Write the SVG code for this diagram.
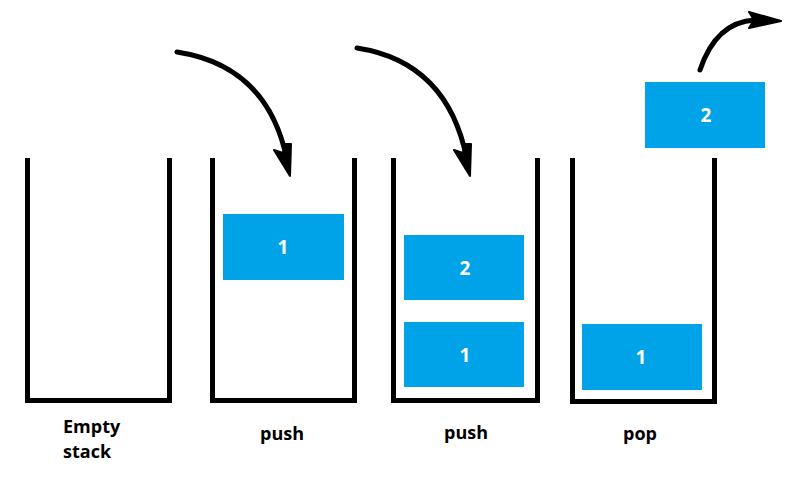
<svg xmlns="http://www.w3.org/2000/svg" width="803" height="478" viewBox="0 0 803 478">
<style>
.stack{fill:none;stroke:#000;stroke-width:5;stroke-linecap:butt;stroke-linejoin:miter}
.box{fill:#00a2e8}
.num{fill:#fff;font-family:"Open Sans",sans-serif;font-weight:bold;font-size:19px;text-anchor:middle}
.lbl{fill:#000;font-family:"Open Sans",sans-serif;font-weight:bold;font-size:18px;text-anchor:middle}
.arr{fill:none;stroke:#000;stroke-width:5;stroke-linecap:round}
.head{fill:#000;stroke:#000;stroke-width:2;stroke-linejoin:round}
</style>
<rect width="803" height="478" fill="#fff"/>
<g id="stack-empty">
<path class="stack" d="M27.5,158 V400.5 H169.5 V158"/>
<text class="lbl" x="63" y="433" text-anchor="start" style="text-anchor:start">Empty</text>
<text class="lbl" x="63" y="458" text-anchor="start" style="text-anchor:start">stack</text>
</g>
<g id="stack-push1">
<path class="stack" d="M212.5,158 V400.5 H354.5 V158"/>
<rect class="box" x="223" y="214" width="121" height="66"/>
<text class="num" x="283" y="254">1</text>
<text class="lbl" x="282" y="440">push</text>
</g>
<g id="stack-push2">
<path class="stack" d="M393.5,158 V400.5 H537.5 V158"/>
<rect class="box" x="404" y="235" width="120" height="65"/>
<text class="num" x="465" y="275">2</text>
<rect class="box" x="404" y="322" width="120" height="65"/>
<text class="num" x="465" y="362">1</text>
<text class="lbl" x="466" y="439">push</text>
</g>
<g id="stack-pop">
<path class="stack" d="M572.5,158 V401.5 H714.5 V158"/>
<rect class="box" x="582" y="324" width="120" height="66"/>
<text class="num" x="641" y="364">1</text>
<text class="lbl" x="640" y="440">pop</text>
</g>
<g id="popped">
<rect class="box" x="645" y="82" width="120" height="66"/>
<text class="num" x="706" y="122">2</text>
</g>
<g id="connectors">
<path class="arr" d="M177,52 Q268,66 287,160"/>
<polygon class="head" points="274,150 283,153 285,144 291,144 290,176"/>
<path class="arr" d="M357,48 Q448,62 467,160"/>
<polygon class="head" points="454,150 463,153 465,144 471,144 470,176"/>
<path class="arr" d="M700,70 Q716,22 755,20"/>
<polygon class="head" points="749,12 781,21 749,28 754,20"/>
</g>
</svg>
